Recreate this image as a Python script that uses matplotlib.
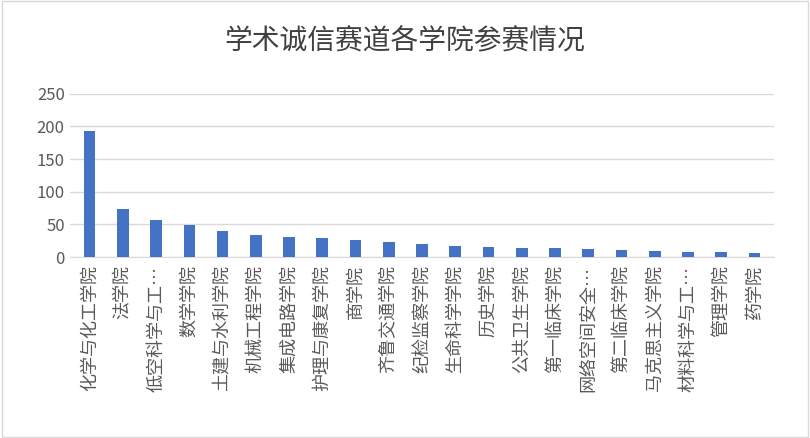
import matplotlib
matplotlib.use("Agg")
import matplotlib.pyplot as plt

plt.rcParams['font.family'] = ['Noto Sans CJK SC', 'DejaVu Sans']

colleges = ["化学与化工学院", "法学院", "低空科学与工…", "数学学院", "土建与水利学院",
            "机械工程学院", "集成电路学院", "护理与康复学院", "商学院", "齐鲁交通学院",
            "纪检监察学院", "生命科学学院", "历史学院", "公共卫生学院", "第一临床学院",
            "网络空间安全…", "第二临床学院", "马克思主义学院", "材料科学与工…", "管理学院", "药学院"]
counts = [193, 73, 57, 49, 40, 34, 31, 29, 26, 23, 20, 17, 15, 14, 14, 13, 11, 9, 8, 8, 6]

fig = plt.figure(figsize=(8.1, 4.38), dpi=100)
fig.patches.append(plt.Rectangle((0.003, 0.003), 0.994, 0.994, transform=fig.transFigure,
                                 fill=False, edgecolor='#d9d9d9', linewidth=1))
ax = fig.add_axes([0.086, 0.413, 0.87, 0.373])

x = range(len(colleges))
ax.bar(x, counts, width=0.35, color='#4472c4', zorder=3)
ax.set_ylim(0, 250)
ax.set_yticks(range(0, 251, 50))
ax.set_xlim(-0.6, len(colleges) - 0.4)
ax.grid(axis='y', color='#d9d9d9', linewidth=1, zorder=0)
for s in ['top', 'right', 'left']:
    ax.spines[s].set_visible(False)
ax.spines['bottom'].set_color('#d9d9d9')
ax.tick_params(axis='y', length=0, labelsize=12, colors='#595959')
ax.tick_params(axis='x', length=0, labelsize=13, colors='#595959', pad=6)
ax.set_xticks(list(x))
ax.set_xticklabels(colleges, rotation=90, va='top', ha='center')

fig.text(0.5, 0.905, "学术诚信赛道各学院参赛情况", ha='center', va='center',
         fontsize=20, color='#404040')

fig.savefig("out.png", dpi=100)
